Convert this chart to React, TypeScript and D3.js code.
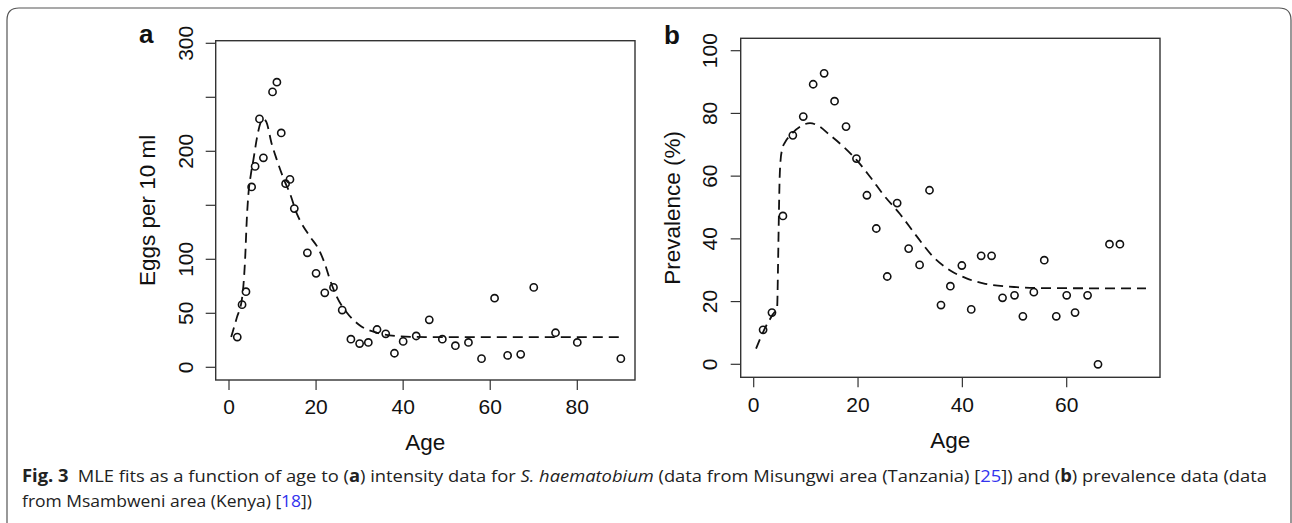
import React from "react";
import * as d3 from "d3";

// panel a: intensity data (age, eggs per 10 ml)
const ageA = [1.9, 3, 3.9, 5.2, 6, 7, 7.9, 10, 11, 12, 13, 14, 15, 18, 20, 22, 24, 26, 28, 30, 32, 34, 36, 38, 40, 43, 46, 49, 52, 55, 58, 61, 64, 67, 70, 75, 80, 90];
const eggsA = [28, 58, 70, 167, 186, 230, 194, 255, 264, 217, 170, 174, 147, 106, 87, 69, 74, 53, 26, 22, 23, 35, 31, 13, 24, 29, 44, 26, 20, 23, 8, 64, 11, 12, 74, 32, 23, 8];
// MLE fit for panel a
const fitAgeA = [0.5, 1.8, 3, 3.7, 4.1, 4.45, 5, 5.6, 6.4, 7.2, 7.9, 8.6, 9.8, 11, 12.7, 14, 15.6, 16.3, 18.6, 20.5, 22, 23.2, 24.8, 27, 30, 34, 38.5, 45, 60, 90];
const fitEggsA = [28, 46, 64, 100, 138, 160, 178, 192, 212, 226, 230, 227, 207, 192, 173, 161, 142, 136, 121, 110, 96, 81, 65, 51, 39, 32, 29, 28, 28, 28];

// panel b: prevalence data (age, %)
const ageB = [1.8, 3.5, 5.6, 7.5, 9.5, 11.4, 13.5, 15.5, 17.7, 19.7, 21.7, 23.5, 25.6, 27.5, 29.7, 31.8, 33.7, 35.9, 37.7, 39.9, 41.7, 43.6, 45.6, 47.7, 50, 51.6, 53.7, 55.7, 58, 60, 61.6, 64, 66, 68.2, 70.2];
const prevB = [11, 16.5, 47.3, 73, 79, 89.3, 92.8, 83.9, 75.8, 65.6, 53.9, 43.3, 28, 51.4, 36.9, 31.7, 55.5, 18.9, 24.9, 31.5, 17.5, 34.6, 34.6, 21.2, 22, 15.3, 23, 33.2, 15.3, 22, 16.5, 22, 0, 38.3, 38.3];
const fitAgeB = [0.45, 2, 3.5, 4.5, 4.65, 4.8, 4.95, 5.15, 5.45, 6, 7, 8.9, 10.8, 12.1, 14.6, 17.2, 19.7, 22.3, 24.9, 28, 31.3, 34.4, 37.6, 40.8, 44, 50.4, 56, 75.2];
const fitPrevB = [5, 11, 15.5, 18.5, 30, 45, 58, 65, 68.5, 70.8, 73, 75.8, 76.9, 76.3, 73.1, 69.4, 65.2, 59.8, 54, 48, 40.7, 34.3, 30, 27.4, 25.8, 24.6, 24.3, 24.2];

const xTicksA = [0, 20, 40, 60, 80];
const yTicksA = [0, 50, 100, 150, 200, 250, 300];
const yLabelsA = [0, 50, 100, 200, 300];
const xTicksB = [0, 20, 40, 60];
const yTicksB = [0, 20, 40, 60, 80, 100];

const AX = "#333";
const FONT = "Liberation Sans, Arial, sans-serif";

type PanelProps = {
  box: { l: number; r: number; t: number; b: number };
  x: d3.ScaleLinear<number, number>;
  y: d3.ScaleLinear<number, number>;
  xs: number[]; ys: number[];
  fx: number[]; fy: number[];
  xTicks: number[]; yTicks: number[]; yLabels: number[];
  yTitle: string; letter: string; letterX: number; letterY: number;
  yLabX: number; yTitleX: number; xLabY: number; xTitleY: number;
};

const Panel = (p: PanelProps) => {
  const line = d3.line<number>()
    .x((d) => p.x(p.fx[d]))
    .y((d) => p.y(p.fy[d]))
    .curve(d3.curveMonotoneX);
  const midY = (p.box.t + p.box.b) / 2;
  const midX = (p.box.l + p.box.r) / 2;
  return (
    <g>
      <rect x={p.box.l} y={p.box.t} width={p.box.r - p.box.l} height={p.box.b - p.box.t}
        fill="none" stroke={AX} strokeWidth={1.4} />
      {p.yTicks.map((t) => (
        <line key={"yt" + t} x1={p.box.l - 10} x2={p.box.l} y1={p.y(t)} y2={p.y(t)} stroke={AX} strokeWidth={1.2} />
      ))}
      {p.yLabels.map((t) => (
        <text key={"yl" + t} transform={`translate(${p.yLabX},${p.y(t)}) rotate(-90)`} textAnchor="middle"
          fontSize={21} fontFamily={FONT} fill="#111">{t}</text>
      ))}
      {p.xTicks.map((t) => (
        <g key={"xt" + t}>
          <line x1={p.x(t)} x2={p.x(t)} y1={p.box.b} y2={p.box.b + 10} stroke={AX} strokeWidth={1.2} />
          <text x={p.x(t)} y={p.xLabY} textAnchor="middle" fontSize={21} fontFamily={FONT} fill="#111">{t}</text>
        </g>
      ))}
      <text x={midX} y={p.xTitleY} textAnchor="middle" fontSize={22.5} fontFamily={FONT} fill="#111">Age</text>
      <text transform={`translate(${p.yTitleX},${midY}) rotate(-90)`} textAnchor="middle"
        fontSize={22.5} fontFamily={FONT} fill="#111">{p.yTitle}</text>
      <text x={p.letterX} y={p.letterY} fontSize={26} fontWeight="bold" fontFamily={FONT} fill="#111">{p.letter}</text>
      <path d={line(d3.range(p.fx.length)) || ""} fill="none" stroke="#111" strokeWidth={1.8} strokeDasharray="10 6" />
      {p.xs.map((v, i) => (
        <circle key={"c" + i} cx={p.x(v)} cy={p.y(p.ys[i])} r={3.6} fill="none" stroke="#111" strokeWidth={1.6} />
      ))}
    </g>
  );
};

export default function App() {
  const xA = d3.scaleLinear().domain([0, 80]).range([229, 577.3]);
  const yA = d3.scaleLinear().domain([0, 300]).range([367.3, 43.3]);
  const xB = d3.scaleLinear().domain([0, 60]).range([753.7, 1066.7]);
  const yB = d3.scaleLinear().domain([0, 100]).range([364.3, 50.7]);
  const blue = "#3333ee";
  return (
    <svg width={1292} height={523} style={{ position: "absolute", left: 0, top: 0, background: "#fff" }}>
      <path d="M7,523 L7,20 Q7,8 19,8 L1279,8 Q1291,8 1291,20 L1291,523" fill="none" stroke="#555" strokeWidth={1.2} />
      <Panel box={{ l: 215.7, r: 635, t: 40.7, b: 380 }} x={xA} y={yA} xs={ageA} ys={eggsA} fx={fitAgeA} fy={fitEggsA}
        xTicks={xTicksA} yTicks={yTicksA} yLabels={yLabelsA} yTitle="Eggs per 10 ml" letter="a" letterX={139} letterY={43}
        yLabX={193} yTitleX={155} xLabY={413.5} xTitleY={450} />
      <Panel box={{ l: 740.7, r: 1160, t: 38.3, b: 377.3 }} x={xB} y={yB} xs={ageB} ys={prevB} fx={fitAgeB} fy={fitPrevB}
        xTicks={xTicksB} yTicks={yTicksB} yLabels={yTicksB} yTitle="Prevalence (%)" letter="b" letterX={664} letterY={44}
        yLabX={717} yTitleX={680} xLabY={411.5} xTitleY={448} />
      <text x={22} y={481.5} fontSize={17} fontFamily="Open Sans, sans-serif" fill="#222" textLength={1245} lengthAdjust="spacingAndGlyphs">
        <tspan fontWeight="bold">Fig. 3</tspan>
        <tspan>{"\u2002MLE fits as a function of age to ("}</tspan>
        <tspan fontWeight="bold">a</tspan>
        <tspan>{") intensity data for "}</tspan>
        <tspan fontStyle="italic">S. haematobium</tspan>
        <tspan>{" (data from Misungwi area (Tanzania) ["}</tspan>
        <tspan fill={blue}>25</tspan>
        <tspan>{"]) and ("}</tspan>
        <tspan fontWeight="bold">b</tspan>
        <tspan>{") prevalence data (data"}</tspan>
      </text>
      <text x={22} y={507.3} fontSize={17} fontFamily="Open Sans, sans-serif" fill="#222" textLength={290} lengthAdjust="spacingAndGlyphs">
        <tspan>{"from Msambweni area (Kenya) ["}</tspan>
        <tspan fill={blue}>18</tspan>
        <tspan>{"])"}</tspan>
      </text>
    </svg>
  );
}
